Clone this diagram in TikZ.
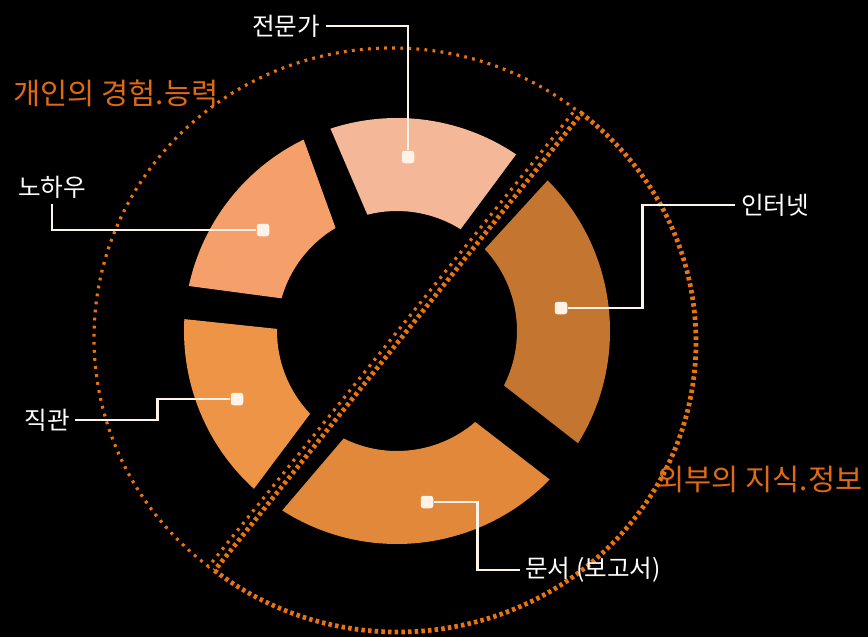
\documentclass[tikz,border=0pt]{standalone}
\usepackage{fontspec}
\usepackage{tikz}
\usetikzlibrary{calc,positioning}
\newfontfamily\kr{Noto Sans CJK KR}

\definecolor{bgblack}{HTML}{000000}
\definecolor{dotorange}{HTML}{E8730F}
\definecolor{txtorange}{HTML}{E06A12}
\definecolor{leadwhite}{HTML}{FFF2E6}
\definecolor{segA}{HTML}{F4B898}
\definecolor{segB}{HTML}{F5A06A}
\definecolor{segC}{HTML}{EE9446}
\definecolor{segD}{HTML}{E2883A}
\definecolor{segE}{HTML}{C47630}

\tikzset{
  finedots/.style={dotorange, line width=1.8pt, dash pattern=on 1.6pt off 3pt},
  thickdots/.style={dotorange, line width=2.7pt, dash pattern=on 2pt off 1.8pt},
  itemlabel/.style={text=white, font=\kr\fontsize{14}{16}\selectfont, inner sep=3pt},
  grouplabel/.style={text=txtorange, font=\kr\fontsize{16.8}{19}\selectfont, inner sep=2pt},
  pin/.style={fill=leadwhite, rounded corners=1.5pt, minimum size=0.25cm, inner sep=0pt},
  leader/.style={leadwhite, line width=1.6pt}
}

\begin{document}
\begin{tikzpicture}[x=0.02cm, y=0.02cm]
% --- background ---
\fill[bgblack] (0,0) rectangle (868,637);
\useasboundingbox (0,0) rectangle (868,637);

% --- ring ---
\coordinate (C) at (397,306);
\foreach \oa/\ob/\ia/\ib/\col in {56/108.2/58/104.3/segA,
    116/167.8/120.8/164.2/segB,
    176.8/227.8/179/223.6/segC,
    237.4/315.8/243.6/310.7/segD,
    -31.8/45/-27/43/segE}
  \fill[\col] ($(C)+(\oa:213)$) arc[start angle=\oa, end angle=\ob, radius=213]
    -- ($(C)+(\ib:120)$) arc[start angle=\ib, end angle=\ia, radius=120] -- cycle;

% --- dotted halves ---
\coordinate (Cin) at (392,299);
\coordinate (Cout) at (398,295);
\draw[finedots] ($(Cin)+(52:298 and 290)$)
  arc[start angle=52, end angle=232, x radius=298, y radius=290] -- cycle;
\draw[thickdots] ($(Cout)+(232:298 and 290)$)
  arc[start angle=232, end angle=412, x radius=298, y radius=290] -- cycle;

% --- group labels ---
\node[grouplabel] (grpIn) at (116,544) {개인의 경험.능력};
\node[grouplabel] (grpOut) at (760,158) {외부의 지식.정보};

% --- item labels and pins ---
\node[itemlabel] (lblExpert) at (286,611) {전문가};
\node[itemlabel] (lblKnow) at (52,450) {노하우};
\node[itemlabel] (lblIntu) at (47,217) {직관};
\node[itemlabel] (lblNet) at (775,432) {인터넷};
\node[itemlabel] (lblDoc) at (593,67) {문서 (보고서)};

\node[pin] (pExpert) at (408,480) {};
\node[pin] (pKnow) at (263,407) {};
\node[pin] (pIntu) at (237,238) {};
\node[pin] (pNet) at (561,329) {};
\node[pin] (pDoc) at (427,135) {};

% --- leaders ---
\draw[leader] (lblExpert.east) -| (pExpert);
\draw[leader] (lblKnow.south) |- (pKnow);
\draw[leader] (lblIntu.east) -- ++(82,0) |- (pIntu);
\draw[leader] (lblNet.west) -- ++(-93,0) |- (pNet);
\draw[leader] (lblDoc.west) -- ++(-42,0) |- (pDoc);
\end{tikzpicture}
\end{document}
